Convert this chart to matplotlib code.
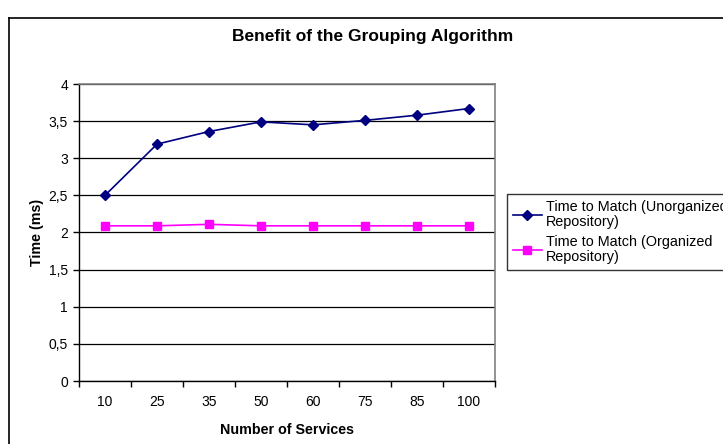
import matplotlib
matplotlib.use("Agg")
import matplotlib.pyplot as plt
from matplotlib.lines import Line2D
import numpy as np

plt.rcParams["font.family"] = ["Liberation Sans", "DejaVu Sans"]

services = ["10", "25", "35", "50", "60", "75", "85", "100"]
unorganized = [2.5, 3.19, 3.36, 3.49, 3.45, 3.51, 3.58, 3.67]
organized = [2.09, 2.09, 2.11, 2.09, 2.09, 2.09, 2.09, 2.09]
yticks = [0, 0.5, 1, 1.5, 2, 2.5, 3, 3.5, 4]
ytick_labels = ["0", "0,5", "1", "1,5", "2", "2,5", "3", "3,5", "4"]

W, H = 723, 444
fig = plt.figure(figsize=(W / 100, H / 100), dpi=100)
fig.patch.set_facecolor("white")

# chart area frame (runs off the right/bottom edge like the original)
fig.add_artist(Line2D([9 / W, 9 / W], [0, 1 - 18 / H], color="black", lw=1.2))
fig.add_artist(Line2D([9 / W, 1], [1 - 18 / H, 1 - 18 / H], color="black", lw=1.2))

ax = fig.add_axes([79 / W, 1 - 381 / H, (495 - 79) / W, (381 - 84) / H])
x = np.arange(len(services))
ax.plot(x, unorganized, color="#000080", lw=1.2, marker="D", ms=5.5,
        label="Time to Match (Unorganized\nRepository)")
ax.plot(x, organized, color="#FF00FF", lw=1.2, marker="s", ms=6,
        label="Time to Match (Organized\nRepository)")

ax.set_xlim(-0.5, len(services) - 0.5)
ax.set_ylim(0, 4)
ax.set_yticks(yticks)
ax.set_yticklabels(ytick_labels, fontsize=10)
ax.set_xticks(x)
ax.set_xticklabels(services, fontsize=10)
ax.set_xticks(np.arange(len(services) + 1) - 0.5, minor=True)
ax.tick_params(axis="x", which="major", length=0, pad=10)
ax.tick_params(axis="x", which="minor", length=4, direction="out", width=1)
ax.tick_params(axis="y", length=4, direction="out", width=1, pad=4)
ax.grid(axis="y", color="black", lw=0.9)
ax.set_axisbelow(True)
for s in ["top", "right"]:
    ax.spines[s].set_color("#808080")
    ax.spines[s].set_linewidth(1.2)
for s in ["left", "bottom"]:
    ax.spines[s].set_color("black")
    ax.spines[s].set_linewidth(1.0)

ax.set_xlabel("Number of Services", fontsize=10.3, fontweight="bold", labelpad=10)
ax.set_ylabel("Time (ms)", fontsize=10.3, fontweight="bold", labelpad=3)
fig.text(373 / W, 1 - 37 / H, "Benefit of the Grouping Algorithm",
         ha="center", va="center", fontsize=12.5, fontweight="bold")

# legend runs past the right edge, as in the original
leg = fig.legend(loc="upper left", bbox_to_anchor=(507 / W, 1 - 194 / H),
                 fontsize=10.4, frameon=True, fancybox=False, edgecolor="black",
                 handlelength=2.0, borderpad=0.4, labelspacing=0.45,
                 handletextpad=0.3, borderaxespad=0)
leg.get_frame().set_linewidth(1.0)
for t in leg.get_texts():
    t.set_linespacing(1.1)

fig.savefig("out.png", dpi=100)
